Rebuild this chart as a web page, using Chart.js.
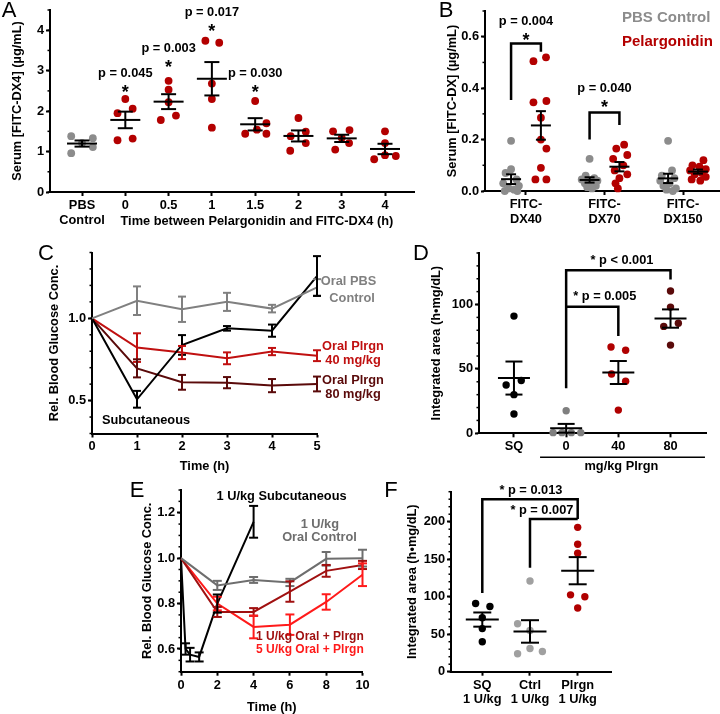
<!DOCTYPE html>
<html>
<head>
<meta charset="utf-8">
<script src="https://cdn.jsdelivr.net/npm/chart.js@4.4.1/dist/chart.umd.min.js"></script>
<style>
  body { margin: 0; background: #fff; }
  #wrap { position: relative; width: 720px; height: 714px; }
  #wrap canvas { position: absolute; left: 0; top: 0; }
</style>
</head>
<body>
<div id="wrap">
  <canvas id="cA" width="720" height="714"></canvas>
  <canvas id="cB" width="720" height="714"></canvas>
  <canvas id="cC" width="720" height="714"></canvas>
  <canvas id="cD" width="720" height="714"></canvas>
  <canvas id="cE" width="720" height="714"></canvas>
  <canvas id="cF" width="720" height="714"></canvas>
</div>
<script>
// ---- data ----
// A: serum FITC-DX4 by time between pelargonidin and FITC-DX4
const catsA = [['PBS', 'Control'], '0', '0.5', '1', '1.5', '2', '3', '4'];
const valsA = [
  [1.38, 0.96, 1.21, 1.33, 1.11],
  [2.30, 1.95, 2.06, 1.28, 1.32],
  [2.75, 2.53, 2.22, 1.78, 1.89],
  [3.74, 3.69, 2.68, 2.30, 1.59],
  [2.25, 1.70, 1.54, 1.44, 1.44],
  [1.83, 1.49, 1.38, 1.21, 1.02],
  [1.50, 1.53, 1.34, 1.21, 1.05],
  [1.50, 1.21, 0.91, 0.81, 0.89]
];
const pA = ['', 'p = 0.045', 'p = 0.003', 'p = 0.017', 'p = 0.030', '', '', ''];

// B: FITC-DX of different sizes
const catsB = [['FITC-', 'DX40'], ['FITC-', 'DX70'], ['FITC-', 'DX150']];
const pbsB = [
  [0.195, 0.085, 0.07, 0.045, 0.03, 0.02, 0.01, 0.005, 0.0, 0.0],
  [0.125, 0.06, 0.05, 0.045, 0.04, 0.035, 0.03, 0.02, 0.015, 0.01],
  [0.195, 0.08, 0.06, 0.05, 0.04, 0.03, 0.02, 0.01, 0.005, 0.0]
];
const plgB = [
  [0.52, 0.505, 0.35, 0.345, 0.285, 0.2, 0.165, 0.09, 0.045, 0.045],
  [0.18, 0.165, 0.14, 0.125, 0.1, 0.08, 0.065, 0.05, 0.03, 0.01],
  [0.12, 0.1, 0.095, 0.085, 0.08, 0.07, 0.065, 0.055, 0.045, 0.04]
];

// C: relative blood glucose, 0-5 h
const timeC = [0, 1, 2, 3, 4, 5];
const pbsC = [1.0, 1.107, 1.055, 1.10, 1.059, 1.188];
const pbsCerr = [0, 0.087, 0.077, 0.055, 0.023, 0.05];
const subC = [1.0, 0.508, 0.838, 0.939, 0.925, 1.257];
const subCerr = [0, 0.051, 0.06, 0.014, 0.037, 0.121];
const p40C = [1.0, 0.822, 0.792, 0.757, 0.798, 0.773];
const p40Cerr = [0, 0.087, 0.04, 0.036, 0.022, 0.033];
const p80C = [1.0, 0.696, 0.611, 0.609, 0.591, 0.601];
const p80Cerr = [0, 0.055, 0.045, 0.034, 0.04, 0.045];

// D: integrated area
const catsD = ['SQ', '0', '40', '80'];
const valsD = [
  [91, 41, 37.5, 30, 15],
  [17.5, 0.5, 0.5, 0.5, 0.5],
  [67, 64.5, 46, 40.5, 18],
  [110.5, 98, 85.5, 83, 68.5]
];

// E: relative blood glucose, 0-10 h
const timeEsub = [0, 0.25, 0.5, 1, 2, 4];
const subE = [1.0, 0.60, 0.575, 0.565, 0.80, 1.16];
const subEerr = [0, 0.025, 0.03, 0.02, 0.04, 0.07];
const timeE = [0, 2, 4, 6, 8, 10];
const ctrlE = [1.0, 0.88, 0.904, 0.893, 0.997, 1.0];
const ctrlEerr = [0, 0.02, 0.013, 0.016, 0.03, 0.037];
const u1E = [1.0, 0.763, 0.763, 0.853, 0.944, 0.97];
const u1Eerr = [0, 0.022, 0.017, 0.045, 0.026, 0.018];
const u5E = [1.0, 0.80, 0.697, 0.707, 0.807, 0.927];
const u5Eerr = [0, 0.03, 0.05, 0.045, 0.034, 0.05];

// F: integrated area, 1 U/kg
const catsF = [['SQ', '1 U/kg'], ['Ctrl', '1 U/kg'], ['Plrgn', '1 U/kg']];
const valsF = [
  [91, 87, 72, 57.5, 40],
  [121, 64, 55, 31, 27, 24],
  [192.5, 170, 158, 102.5, 100, 85]
];

// ---- layout (horizontal spread of the dots, in category units) ----
const jitA = [
  [-0.25, -0.25, 0, 0.25, 0.25], [0, -0.18, 0.17, -0.18, 0.17], [0, 0, 0, -0.18, 0.17],
  [-0.15, 0.17, 0, 0, 0], [0, 0.26, 0.04, -0.23, 0.26], [0, 0.17, -0.18, 0.17, -0.19],
  [-0.2, 0.18, 0, 0.17, -0.15], [0, 0, 0, -0.25, 0.25]
];
const jitBpbs = [
  [0, 0, -0.07, 0.07, -0.1, 0.1, -0.03, 0.04, -0.08, 0.08],
  [0, -0.05, 0.06, -0.1, 0.1, 0.02, -0.06, 0.08, -0.03, 0.03],
  [0, 0.05, -0.08, 0.08, -0.1, 0.02, -0.06, 0.1, -0.02, 0.06]
];
const jitBplg = [
  [0.065, -0.095, 0.07, -0.095, 0, 0, 0.07, 0, -0.07, 0.07],
  [0.06, -0.04, 0.1, -0.08, 0.05, -0.06, 0.1, 0, -0.05, -0.02],
  [0.07, -0.07, 0.02, 0.1, -0.1, 0.05, -0.04, 0.1, -0.08, 0.03]
];
const jitD = [[0, 0.14, -0.15, 0, 0], [0, -0.25, -0.08, 0.1, 0.28], [-0.14, 0.14, -0.13, 0.14, 0], [0, 0, 0.15, -0.13, 0]];
const jitF = [[-0.14, 0.16, 0, 0, 0], [0, -0.26, 0, 0, 0.26, -0.26], [0, 0, 0, -0.15, 0.15, 0]];

const FAMILY = '"Liberation Sans", Arial, Helvetica, sans-serif';
const FS = 12.8;
const GREY = '#8c8c8c', RED = '#b30000', MAROON = '#5a0a0a', BRIGHT = '#ff1a1a';

Chart.defaults.font.family = FAMILY;
Chart.defaults.font.size = FS;
Chart.defaults.font.weight = 'bold';
Chart.defaults.color = '#000';

function stats(v) {
  const n = v.length, m = v.reduce((a, b) => a + b, 0) / n;
  const sd = Math.sqrt(v.reduce((a, b) => a + (b - m) * (b - m), 0) / (n - 1));
  return [m, sd / Math.sqrt(n)];
}

const decor = {
  id: 'decor',
  afterDatasetsDraw(chart, args, o) {
    const { ctx, chartArea } = chart;
    const xs = chart.scales.x, ys = chart.scales.y;
    const X = v => xs.getPixelForValue(v), Y = v => ys.getPixelForValue(v);
    const seg = (a, b, c, d) => { ctx.beginPath(); ctx.moveTo(a, b); ctx.lineTo(c, d); ctx.stroke(); };
    ctx.save();
    ctx.strokeStyle = '#000';
    if (o.minor) {
      ctx.lineWidth = 1.5;
      const n = Math.round((ys.max - ys.min) / o.minor);
      for (let i = 0; i <= n; i++) {
        const py = Y(ys.min + i * o.minor);
        seg(chartArea.left - 2.5, py, chartArea.left, py);
      }
    }
    (o.groups || []).forEach(g => {
      const [m, se] = stats(g.v);
      const cx = X(g.x);
      ctx.lineWidth = 2;
      seg(cx - g.mw / 2, Y(m), cx + g.mw / 2, Y(m));
      seg(cx, Y(m - se), cx, Y(m + se));
      seg(cx - g.cw / 2, Y(m + se), cx + g.cw / 2, Y(m + se));
      seg(cx - g.cw / 2, Y(m - se), cx + g.cw / 2, Y(m - se));
    });
    (o.errs || []).forEach(s => {
      ctx.strokeStyle = s.c;
      ctx.lineWidth = 2;
      s.t.forEach((t, i) => {
        if (!s.e[i]) return;
        const cx = X(t), hi = Y(s.v[i] + s.e[i]), lo = Y(s.v[i] - s.e[i]);
        seg(cx, hi, cx, lo);
        seg(cx - s.cap / 2, hi, cx + s.cap / 2, hi);
        seg(cx - s.cap / 2, lo, cx + s.cap / 2, lo);
      });
    });
    ctx.strokeStyle = '#000';
    (o.brackets || []).forEach(b => {
      ctx.lineWidth = b.w || 2.5;
      ctx.beginPath();
      b.p.forEach(([a, c], i) => i ? ctx.lineTo(X(a), Y(c)) : ctx.moveTo(X(a), Y(c)));
      ctx.stroke();
    });
    ctx.restore();
  },
  afterDraw(chart, args, o) {
    const { ctx } = chart;
    const xs = chart.scales.x, ys = chart.scales.y;
    ctx.save();
    (o.texts || []).forEach(t => {
      const size = t.s || FS;
      ctx.font = (t.w || 'bold') + ' ' + size + 'px ' + FAMILY;
      ctx.fillStyle = t.c || '#000';
      ctx.textAlign = t.a || 'center';
      let px = t.page ? t.x : xs.getPixelForValue(t.x);
      let py = t.page ? t.y : ys.getPixelForValue(t.y);
      if (t.star) { ctx.textBaseline = 'alphabetic'; py += 0.55 * size; }
      else ctx.textBaseline = 'middle';
      ctx.fillText(t.t, px, py);
    });
    ctx.restore();
  }
};

const gridOpt = { drawOnChartArea: false, tickLength: 4, tickWidth: 2, tickColor: '#000' };
const borderOpt = { color: '#000', width: 2 };
const titleFont = { size: FS, weight: 'bold', lineHeight: 1.15 };

function yScale(min, max, ticks, dec, W, title) {
  return {
    type: 'linear', min, max,
    afterFit: s => { s.width = W; },
    afterBuildTicks: s => { s.ticks = ticks.map(v => ({ value: v })); },
    ticks: { padding: 2, color: '#000', callback: v => v.toFixed(dec) },
    grid: gridOpt, border: borderOpt,
    title: { display: true, text: title, padding: 0, color: '#000', font: titleFont }
  };
}
function xScale(min, max, ticks, labels, H, title) {
  return {
    type: 'linear', min, max,
    afterFit: s => { s.height = H; },
    afterBuildTicks: s => { s.ticks = ticks.map(v => ({ value: v })); },
    ticks: { padding: 2, maxRotation: 0, autoSkip: false, color: '#000',
             font: { size: FS, weight: 'bold', lineHeight: 1.15 },
             callback: v => labels ? labels[v] : String(v) },
    grid: gridOpt, border: borderOpt,
    title: title ? { display: true, text: title, padding: 0, color: '#000', font: titleFont } : { display: false }
  };
}

function panel(id, area, W, H, scales, datasets, deco) {
  new Chart(document.getElementById(id), {
    type: 'scatter',
    data: { datasets },
    options: {
      responsive: false, animation: false, devicePixelRatio: 1, events: [],
      layout: { autoPadding: false, padding: { left: area[0] - W, top: area[1], right: 720 - area[2], bottom: 714 - area[3] - H } },
      scales,
      plugins: { legend: { display: false }, tooltip: { enabled: false }, decor: deco }
    },
    plugins: [decor]
  });
}

function dotSet(vals, jit, shift, color, r) {
  return {
    data: vals.map((v, j) => ({ x: shift + jit[j], y: v })),
    backgroundColor: color, borderWidth: 0, pointRadius: r, clip: false
  };
}
function lineSet(t, v, color) {
  return {
    data: t.map((x, i) => ({ x, y: v[i] })),
    showLine: true, borderColor: color, borderWidth: 2, pointRadius: 0, clip: false
  };
}
const idx = a => a.map((_, i) => i);

// ---- A ----
panel('cA', [50, 10, 414, 192], 40, 40, {
  x: xScale(-0.74, 7.67, idx(catsA), catsA, 40, null),
  y: yScale(0, 4.5, [0, 1, 2, 3, 4], 0, 40, 'Serum [FITC-DX4] (\u00b5g/mL)')
}, valsA.map((v, g) => dotSet(v, jitA[g], g, g === 0 ? GREY : RED, 3.9)), {
  minor: 0.5,
  groups: valsA.map((v, g) => ({ x: g, v, mw: 30, cw: 15 })),
  texts: pA.flatMap((p, g) => {
    if (!p) return [];
    const base = g === 3 ? 4.08 : (g === 2 ? 3.19 : 2.57);
    return [{ t: p, x: g, y: base + 0.37 }, { t: '*', x: g, y: base, s: 18, star: true }];
  }).concat([
    { t: 'Time between Pelargonidin and FITC-DX4 (h)', x: 4.04, y: -0.74 },
    { t: 'A', x: 9, y: 11, page: true, s: 22, w: 'normal' }
  ])
});

// ---- B ----
const off = 0.19;
panel('cB', [485, 11, 720, 191], 40, 40, {
  x: xScale(-0.522, 2.471, idx(catsB), catsB, 40, null),
  y: yScale(0, 0.7, [0, 0.2, 0.4, 0.6], 1, 40, 'Serum [FITC-DX] (\u00b5g/mL)')
}, pbsB.map((v, g) => dotSet(v, jitBpbs[g], g - off, GREY, 3.9))
   .concat(plgB.map((v, g) => dotSet(v, jitBplg[g], g + off, RED, 3.9))), {
  minor: 0.1,
  groups: pbsB.map((v, g) => ({ x: g - off, v, mw: 20, cw: 10 }))
    .concat(plgB.map((v, g) => ({ x: g + off, v, mw: 20, cw: 10 }))),
  brackets: [
    { p: [[-off, 0.354], [-off, 0.574], [off, 0.574], [off, 0.542]] },
    { p: [[1 - off, 0.2], [1 - off, 0.305], [1 + off, 0.305], [1 + off, 0.257]] }
  ],
  texts: [
    { t: 'p = 0.004', x: 0, y: 0.658 }, { t: '*', x: 0, y: 0.603, s: 18, star: true },
    { t: 'p = 0.040', x: 1, y: 0.4 }, { t: '*', x: 1, y: 0.343, s: 18, star: true },
    { t: 'PBS Control', x: 622, y: 18, page: true, a: 'left', s: 15, c: GREY },
    { t: 'Pelargonidin', x: 622, y: 42, page: true, a: 'left', s: 15, c: RED },
    { t: 'B', x: 446, y: 11, page: true, s: 22, w: 'normal' }
  ]
});

// ---- C ----
const RED_C = '#c01010', GREY_C = '#808080';
panel('cC', [92, 252.5, 317, 433.5], 44.5, 40, {
  x: xScale(0, 5, timeC, null, 40, 'Time (h)'),
  y: yScale(0.3, 1.4, [0.5, 1.0], 1, 44.5, 'Rel. Blood Glucose Conc.')
}, [
  lineSet(timeC, pbsC, GREY_C), lineSet(timeC, subC, '#000'),
  lineSet(timeC, p40C, RED_C), lineSet(timeC, p80C, MAROON)
], {
  minor: 0.1,
  errs: [
    { t: timeC, v: pbsC, e: pbsCerr, c: GREY_C, cap: 8 },
    { t: timeC, v: subC, e: subCerr, c: '#000', cap: 8 },
    { t: timeC, v: p40C, e: p40Cerr, c: RED_C, cap: 8 },
    { t: timeC, v: p80C, e: p80Cerr, c: MAROON, cap: 8 }
  ],
  texts: [
    { t: 'Oral PBS', x: 5.7, y: 1.221, c: GREY_C }, { t: 'Control', x: 5.78, y: 1.123, c: GREY_C },
    { t: 'Oral Plrgn', x: 5.8, y: 0.827, c: RED_C }, { t: '40 mg/kg', x: 5.8, y: 0.742, c: RED_C },
    { t: 'Oral Plrgn', x: 5.8, y: 0.625, c: MAROON }, { t: '80 mg/kg', x: 5.8, y: 0.538, c: MAROON },
    { t: 'Subcutaneous', x: 1.2, y: 0.378 },
    { t: 'C', x: 46, y: 254, page: true, s: 22, w: 'normal' }
  ]
});

// ---- D ----
const colD = ['#000', '#7f7f7f', '#b00000', MAROON];
panel('cD', [479, 253, 706, 433.3], 50, 40, {
  x: xScale(-0.67, 3.68, idx(catsD), catsD, 40, null),
  y: yScale(0, 140, [0, 50, 100], 0, 50, 'Integrated area (h\u2022mg/dL)')
}, valsD.map((v, g) => dotSet(v, jitD[g], g, colD[g], 3.7)), {
  minor: 10,
  groups: valsD.map((v, g) => ({ x: g, v, mw: 32, cw: 17 })),
  brackets: [
    { p: [[1, 34.9], [1, 126.6], [3, 126.6], [3, 119.4]] },
    { p: [[1, 98.2], [2, 98.2], [2, 75.5]] },
    { p: [[0.5, -18.6], [3.66, -18.6]], w: 1.5 }
  ],
  texts: [
    { t: '* p < 0.001', x: 2.07, y: 134.4 },
    { t: '* p = 0.005', x: 1.74, y: 106.5 },
    { t: 'mg/kg Plrgn', x: 2.06, y: -25.9 },
    { t: 'D', x: 421, y: 254, page: true, s: 22, w: 'normal' }
  ]
});

// ---- E ----
const GREY_E = '#6e6e6e', DKRED_E = '#a01010';
panel('cE', [181, 490, 362.5, 671.7], 40.5, 42.8, {
  x: xScale(0, 10, [0, 2, 4, 6, 8, 10], null, 42.8, 'Time (h)'),
  y: yScale(0.5, 1.3, [0.6, 0.8, 1.0, 1.2], 1, 40.5, 'Rel. Blood Glucose Conc.')
}, [
  lineSet(timeE, ctrlE, GREY_E), lineSet(timeE, u1E, DKRED_E),
  lineSet(timeE, u5E, BRIGHT), lineSet(timeEsub, subE, '#000')
], {
  minor: 0.05,
  errs: [
    { t: timeE, v: ctrlE, e: ctrlEerr, c: GREY_E, cap: 9 },
    { t: timeE, v: u1E, e: u1Eerr, c: DKRED_E, cap: 9 },
    { t: timeE, v: u5E, e: u5Eerr, c: BRIGHT, cap: 9 },
    { t: timeEsub, v: subE, e: subEerr, c: '#000', cap: 9 }
  ],
  texts: [
    { t: '1 U/kg Subcutaneous', x: 5.54, y: 1.273 },
    { t: '1 U/kg', x: 7.65, y: 1.149, c: GREY_E },
    { t: 'Oral Control', x: 7.63, y: 1.093, c: GREY_E },
    { t: '1 U/kg Oral + Plrgn', x: 7.1, y: 0.652, c: DKRED_E, s: 12 },
    { t: '5 U/kg Oral + Plrgn', x: 7.1, y: 0.595, c: BRIGHT, s: 12 },
    { t: 'E', x: 137, y: 491, page: true, s: 22, w: 'normal' }
  ]
});

// ---- F ----
const colF = ['#000', '#a0a0a0', '#b00000'];
panel('cF', [451, 491.7, 611.7, 671.7], 45.5, 40, {
  x: xScale(-0.656, 2.713, idx(catsF), catsF, 40, null),
  y: yScale(0, 240, [0, 50, 100, 150, 200], 0, 45.5, 'Integrated area (h\u2022mg/dL)')
}, valsF.map((v, g) => dotSet(v, jitF[g], g, colF[g], 3.7)), {
  minor: 10,
  groups: valsF.map((v, g) => ({ x: g, v, mw: 33, cw: 18 })),
  brackets: [
    { p: [[0, 104.9], [0, 230], [2, 230], [2, 203.5]] },
    { p: [[1, 138.5], [1, 203.5], [2, 203.5]] }
  ],
  texts: [
    { t: '* p = 0.013', x: 1.02, y: 242 },
    { t: '* p = 0.007', x: 1.25, y: 215.5 },
    { t: 'F', x: 391, y: 491, page: true, s: 22, w: 'normal' }
  ]
});
</script>
</body>
</html>
